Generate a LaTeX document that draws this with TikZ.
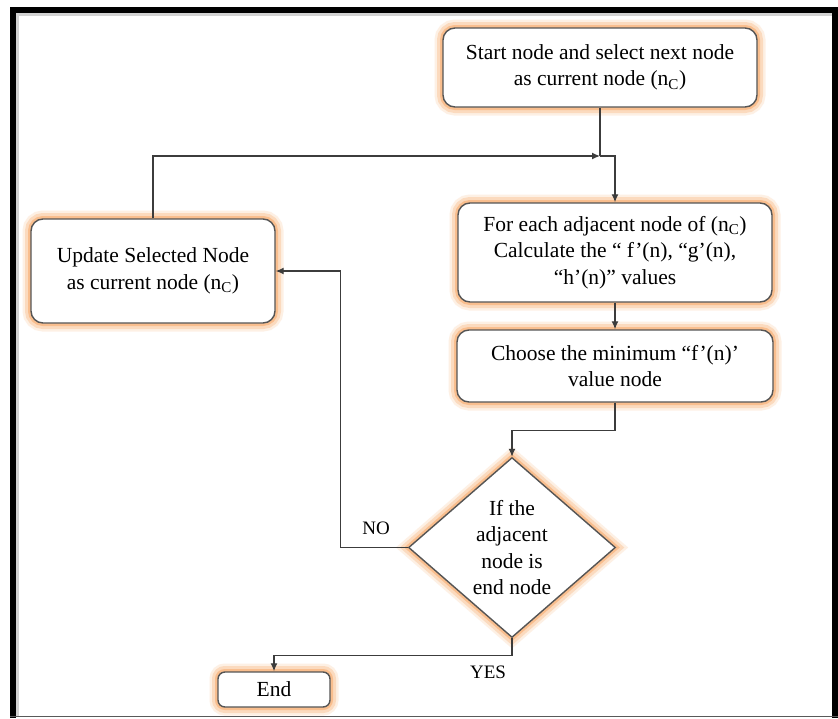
\documentclass[tikz,border=0pt]{standalone}
\usepackage{fontspec}
\setmainfont{Liberation Serif}
\usetikzlibrary{arrows.meta,shapes.geometric}

\definecolor{glowc}{RGB}{247,150,70}
\definecolor{edgec}{RGB}{85,85,85}
\definecolor{linec}{RGB}{60,60,60}

\tikzset{
  glow/.style={
    preaction={draw=glowc, line width=17pt, opacity=0.14},
    preaction={draw=glowc, line width=12pt, opacity=0.24},
    preaction={draw=glowc, line width=6pt, opacity=0.40}},
  box/.style={glow, draw=edgec, line width=1.4pt, fill=white,
    rounded corners=12pt, align=center, inner sep=0pt,
    font=\fontsize{21.5}{26.5}\selectfont},
  decision/.style={glow, draw=edgec, line width=1.4pt, fill=white,
    diamond, align=center, inner sep=0pt,
    font=\fontsize{21.5}{26.5}\selectfont},
  lbl/.style={inner sep=0pt, font=\fontsize{19}{22}\selectfont},
  conn/.style={draw=linec, line width=1.3pt},
  arr/.style={conn, -{Latex[length=8pt,width=7pt]}}
}

\begin{document}
\begin{tikzpicture}[x=1pt, y=-1pt]
  \useasboundingbox (0,0) rectangle (838,718);
  \fill[white] (0,0) rectangle (838,718);

  % outer frame with a soft inner shade
  \draw[gray!35, line width=3pt] (17.5,14) -- (17.5,716);
  \draw[gray!35, line width=3pt] (16,14.5) -- (832,14.5);
  \draw[black, line width=6pt] (13,718) -- (13,10) -- (838,10);
  \draw[black, line width=6pt] (835,10) -- (835,718);
  \draw[gray!70!black, line width=1.5pt] (10,716.5) -- (838,716.5);

  % process steps
  \node[box, minimum width=314pt, minimum height=79pt] (start) at (600,67.5)
    {Start node and select next node\\as current node (n\textsubscript{C})};
  \node[box, minimum width=314pt, minimum height=99pt] (calc) at (615,252.5)
    {For each adjacent node of (n\textsubscript{C})\\Calculate the “ f’(n), “g’(n),\\“h’(n)” values};
  \node[box, minimum width=316pt, minimum height=72pt] (choose) at (615,366)
    {Choose the minimum “f’(n)’\\value node};
  \node[box, minimum width=244pt, minimum height=104pt] (update) at (153,271)
    {Update Selected Node\\as current node (n\textsubscript{C})};
  \node[decision, minimum width=207pt, minimum height=180pt] (test) at (512,547.5)
    {If the\\adjacent\\node is\\end node};
  \node[box, rounded corners=7pt, minimum width=112pt, minimum height=35pt] (finish) at (274,689.5)
    {End};

  % branch labels
  \node[lbl] (nolbl) at (376,528) {NO};
  \node[lbl] (yeslbl) at (488,672) {YES};

  % connectors
  \coordinate (join) at (600,156);
  \draw[conn] (start.south) -- (join);
  \draw[arr] (join) -| (calc.north);
  \draw[arr] (update.north) |- (join);
  \draw[arr] (calc.south) -- (choose.north);
  \draw[arr] (choose.south) -- ++(0,28) -| (test.north);
  \draw[arr] (test.west) -- ++(-67,0) |- (update.east);
  \draw[arr] (test.south) -- ++(0,17) -| (finish.north);
\end{tikzpicture}
\end{document}
